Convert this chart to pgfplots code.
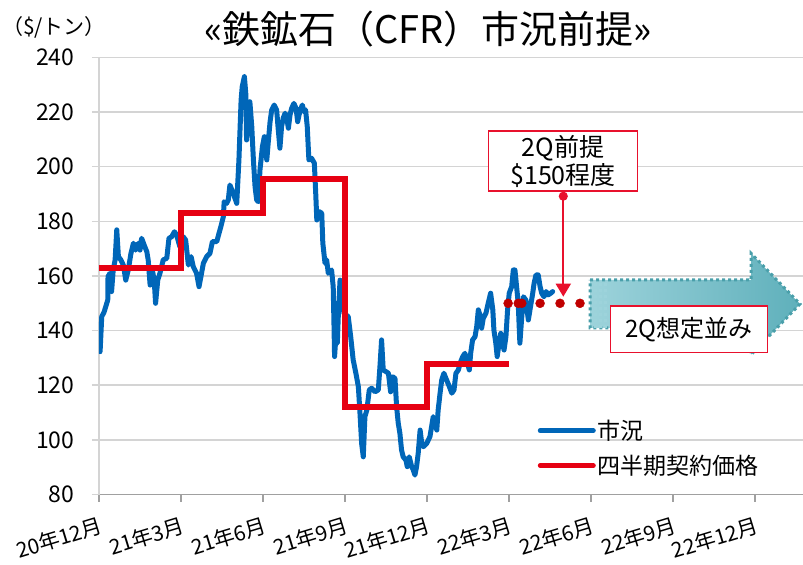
\documentclass[border=0pt]{standalone}
\usepackage{fontspec}
\setmainfont{Noto Sans CJK JP}
\usepackage{pgfplots}
\pgfplotsset{compat=1.18}
\usetikzlibrary{arrows.meta}

\definecolor{blueline}{HTML}{0066B8}
\definecolor{redline}{HTML}{E60012}
\definecolor{reddot}{HTML}{C00000}
\definecolor{arrowred}{HTML}{E8112D}
\definecolor{tealdark}{HTML}{4A9FAA}
\definecolor{teallight}{HTML}{9DD3DB}
\definecolor{tealwhite}{HTML}{F0F9FA}
\definecolor{tealmid}{HTML}{5FB0BB}
\definecolor{gridgray}{HTML}{D4D4D4}
\definecolor{axisgray}{HTML}{A0A0A0}

\begin{document}
\begin{tikzpicture}
\path[use as bounding box] (-99bp,-70.5bp) rectangle (704bp,494.5bp);
\begin{axis}[
  at={(0,0)}, anchor=south west,
  scale only axis, width=704bp, height=437bp,
  xmin=0, xmax=25.76, ymin=80, ymax=240,
  axis x line*=bottom, axis y line*=left,
  axis line style={-},
  x axis line style={draw=axisgray, line width=1.5bp},
  y axis line style={draw=gridgray, line width=1.5bp},
  xtick={0,3,6,9,12,15,18,21,24},
  xticklabels={20年12月,21年3月,21年6月,21年9月,21年12月,22年3月,22年6月,22年9月,22年12月},
  ytick={80,100,...,240},
  tick align=outside,
  major tick length=7bp,
  xtick style={draw=axisgray, line width=1.5bp},
  ytick style={draw=gridgray, line width=1.5bp},
  ymajorgrids,
  grid style={draw=gridgray, line width=1.5bp},
  /pgf/number format/assume math mode=true,
  ticklabel style={font=\fontsize{23bp}{27bp}\selectfont},
  xticklabel style={font=\fontsize{21bp}{25bp}\selectfont, rotate=17, anchor=north east, yshift=-10bp, xshift=-1bp},
  yticklabel style={xshift=-14bp},
  legend style={at={(axis description cs:0.623,0.175)}, anchor=north west, draw=none, fill=none,
    font=\fontsize{23bp}{27bp}\selectfont, row sep=10bp, inner sep=0pt},
  legend cell align=left,
  legend image code/.code={\draw[#1, line width=5bp, line cap=round] (0bp,0bp) -- (53bp,0bp);},
]
\addplot[blueline, line width=5bp, line join=round, line cap=round] coordinates {
(0.04,132.3)(0.10,145.1)(0.19,146.9)(0.32,151.2)(0.33,159.8)(0.40,161.0)(0.46,154.3)(0.52,162.2)(0.59,165.9)(0.65,176.9)(0.71,167.1)(0.80,165.9)(0.89,164.0)(0.98,158.5)(1.07,162.2)(1.17,168.3)(1.26,172.0)(1.34,169.5)(1.44,172.0)(1.50,169.5)(1.56,173.8)(1.65,171.4)(1.75,168.9)(1.80,165.9)(1.87,156.7)(1.95,162.2)(2.02,158.5)(2.07,150.0)(2.15,158.5)(2.23,161.0)(2.35,165.9)(2.48,166.5)(2.56,173.8)(2.66,174.4)(2.76,176.2)(2.84,175.0)(2.96,170.7)(3.08,174.4)(3.17,173.2)(3.27,164.0)(3.37,167.1)(3.45,163.4)(3.57,161.0)(3.66,156.1)(3.73,159.8)(3.82,164.7)(3.94,167.1)(4.06,168.3)(4.15,172.6)(4.31,172.6)(4.39,175.6)(4.46,178.1)(4.55,181.7)(4.58,187.2)(4.67,186.6)(4.73,187.8)(4.79,193.3)(4.91,190.3)(5.04,186.6)(5.12,202.5)(5.20,224.5)(5.24,229.3)(5.32,233.0)(5.37,226.9)(5.40,209.8)(5.46,217.1)(5.52,223.8)(5.59,214.7)(5.65,202.5)(5.71,192.7)(5.77,187.8)(5.83,187.2)(5.89,198.8)(5.98,207.4)(6.05,211.0)(6.14,202.5)(6.19,208.6)(6.26,216.5)(6.32,220.8)(6.41,222.6)(6.50,220.8)(6.56,213.5)(6.62,206.8)(6.68,214.7)(6.74,217.8)(6.81,219.6)(6.87,217.8)(6.93,214.1)(6.99,219.0)(7.05,221.4)(7.13,223.2)(7.21,221.4)(7.27,216.5)(7.32,219.0)(7.39,221.4)(7.44,222.6)(7.50,220.2)(7.56,220.8)(7.62,214.7)(7.68,202.5)(7.78,203.1)(7.88,201.3)(7.93,190.3)(7.97,180.5)(8.05,183.6)(8.15,183.0)(8.19,172.0)(8.27,164.7)(8.33,165.9)(8.39,161.0)(8.51,162.2)(8.57,156.1)(8.60,141.4)(8.62,130.5)(8.66,136.6)(8.72,135.4)(8.76,146.4)(8.82,158.5)(8.88,154.9)(8.96,146.4)(9.12,145.1)(9.21,137.8)(9.30,129.3)(9.40,124.4)(9.49,119.5)(9.55,109.7)(9.61,98.7)(9.67,93.8)(9.73,108.5)(9.80,110.9)(9.89,118.3)(9.98,118.9)(10.10,117.6)(10.22,118.3)(10.28,126.8)(10.34,136.6)(10.40,125.6)(10.50,125.0)(10.59,124.4)(10.67,117.6)(10.75,123.1)(10.83,122.5)(10.89,112.1)(10.95,106.1)(11.01,102.4)(11.07,96.3)(11.13,93.8)(11.23,92.6)(11.28,90.2)(11.35,93.8)(11.44,90.2)(11.50,89.0)(11.56,87.1)(11.62,90.2)(11.68,95.1)(11.75,103.6)(11.81,98.7)(11.87,97.5)(11.99,98.7)(12.11,101.2)(12.23,108.5)(12.36,103.6)(12.41,110.9)(12.48,117.1)(12.54,121.9)(12.62,124.4)(12.72,121.9)(12.82,119.5)(12.91,117.1)(12.99,118.3)(13.06,124.4)(13.15,125.6)(13.21,128.0)(13.31,130.5)(13.39,131.7)(13.45,129.3)(13.55,125.6)(13.60,131.7)(13.67,136.6)(13.76,137.8)(13.82,141.4)(13.88,147.6)(13.94,145.7)(14.00,140.9)(14.06,144.5)(14.16,146.4)(14.24,150.0)(14.33,153.7)(14.41,147.6)(14.45,140.2)(14.52,135.4)(14.57,130.5)(14.64,135.4)(14.70,139.0)(14.77,135.4)(14.82,132.9)(14.89,137.8)(14.95,147.6)(15.01,153.7)(15.10,156.1)(15.16,162.2)(15.22,162.2)(15.28,156.1)(15.34,150.0)(15.40,135.4)(15.47,145.1)(15.53,152.4)(15.62,151.2)(15.71,143.9)(15.77,147.6)(15.87,153.7)(15.92,157.3)(15.99,160.4)(16.07,160.4)(16.14,156.1)(16.20,153.7)(16.28,152.4)(16.36,154.3)(16.44,153.1)(16.53,153.7)(16.60,154.3)
};
\addlegendentry{市況}
\addplot[redline, line width=6bp, const plot, line join=miter] coordinates {
(0,162.8)(3,183.0)(6,195.4)(9,111.9)(12,127.7)(15,127.7)
};
\addlegendentry{四半期契約価格}
\addplot[reddot, only marks, mark=*, mark size=4.5bp, forget plot] coordinates {
(14.97,150)(15.34,150)(15.47,150)(16.14,150)(16.87,150)(17.60,150)
};
\end{axis}

% title and unit
\node[font=\fontsize{38bp}{44bp}\selectfont, anchor=center] at (329bp,465bp) {«鉄鉱石（CFR）市況前提»};
\node[font=\fontsize{21bp}{25bp}\selectfont, anchor=center] at (-45bp,467bp) {（\$/トン）};

% teal block arrow
\shade[left color=teallight, middle color=tealwhite, right color=tealmid]
  (491bp,214.5bp) -- (652bp,214.5bp) -- (652bp,241.2bp) -- (701bp,190.5bp)
  -- (652bp,139.8bp) -- (652bp,166.5bp) -- (491bp,166.5bp) -- cycle;
\draw[tealdark, line width=3bp, dash pattern=on 3bp off 3bp]
  (491bp,214.5bp) -- (652bp,214.5bp) -- (652bp,241.2bp) -- (701bp,190.5bp)
  -- (652bp,139.8bp) -- (652bp,166.5bp) -- (491bp,166.5bp) -- cycle;
\foreach \xx in {496,501,506}
  \draw[teallight, line width=3bp, dash pattern=on 3bp off 3bp] (\xx bp,166.5bp) -- (\xx bp,214.5bp);

% box 2Q
\node[draw=arrowred, line width=1.2bp, fill=white, minimum width=157bp, minimum height=46.6bp,
  inner sep=0pt, font=\fontsize{24bp}{28bp}\selectfont, anchor=south west] at (511bp,141.2bp) {2Q想定並み};

% callout
\node[draw=arrowred, line width=1.2bp, fill=white, minimum width=149bp, minimum height=60bp,
  inner sep=0pt, align=center, font=\fontsize{25bp}{28bp}\selectfont, anchor=south west] at (389bp,302.8bp) {2Q前提\\\$150程度};
\draw[arrowred, line width=2bp, {Circle[length=9bp]}-{Triangle[length=13bp,width=15bp]}] (464.3bp,302.8bp) -- (464.3bp,197.8bp);
\end{tikzpicture}
\end{document}
